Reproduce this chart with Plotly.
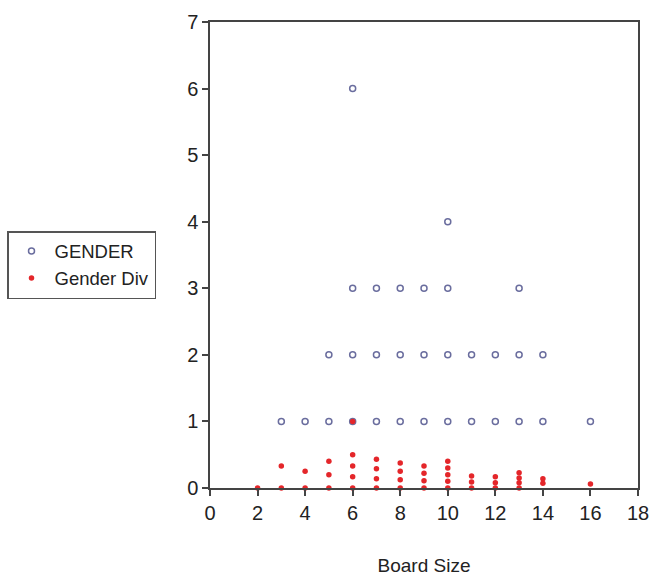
import plotly.graph_objects as go

# GENDER (number of women on board) vs board size
gender_x = [3, 4, 5, 5, 6, 6, 6, 6, 7, 7, 7, 8, 8, 8, 9, 9, 9,
            10, 10, 10, 10, 11, 11, 12, 12, 13, 13, 13, 14, 14, 16]
gender_y = [1, 1, 1, 2, 1, 2, 3, 6, 1, 2, 3, 1, 2, 3, 1, 2, 3,
            1, 2, 3, 4, 1, 2, 1, 2, 1, 2, 3, 1, 2, 1]

# Gender Div (share of women on board) vs board size
div_x = [2, 3, 3, 4, 4, 5, 5, 5, 6, 6, 6, 6, 6, 7, 7, 7, 7, 8, 8, 8, 8, 9, 9, 9, 9,
         10, 10, 10, 10, 10, 11, 11, 11, 12, 12, 12, 13, 13, 13, 13, 14, 14, 16]
div_y = [0, 0, 0.33, 0, 0.25, 0, 0.2, 0.4, 0, 0.17, 0.33, 0.5, 1.0, 0, 0.14, 0.29, 0.43,
         0, 0.125, 0.25, 0.375, 0, 0.11, 0.22, 0.33, 0, 0.1, 0.2, 0.3, 0.4,
         0, 0.09, 0.18, 0, 0.08, 0.17, 0, 0.08, 0.15, 0.23, 0.07, 0.14, 0.06]

x_ticks = [0, 2, 4, 6, 8, 10, 12, 14, 16, 18]
y_ticks = [0, 1, 2, 3, 4, 5, 6, 7]

FONT = "Liberation Sans, Arial, sans-serif"

fig = go.Figure()
fig.add_trace(go.Scatter(
    x=gender_x, y=gender_y, mode="markers", name="GENDER",
    marker=dict(symbol="circle-open", size=6, color="#6a6d9e", line=dict(width=1.5)),
    cliponaxis=False,
))
fig.add_trace(go.Scatter(
    x=div_x, y=div_y, mode="markers", name="Gender Div",
    marker=dict(symbol="circle", size=5.5, color="#e4262a"),
    cliponaxis=False,
))

axis_common = dict(
    showgrid=False, zeroline=False, showline=True, linecolor="#444444", linewidth=1.5,
    mirror=True, ticks="outside", ticklen=6, tickcolor="#444444", tickwidth=1.5,
    tickfont=dict(family=FONT, size=20, color="#222222"),
    automargin=False, ticklabeloverflow="allow",
)

fig.update_layout(
    width=649, height=582,
    margin=dict(l=210, r=11, t=22, b=94, autoexpand=False),
    plot_bgcolor="white", paper_bgcolor="white",
    font=dict(family=FONT, color="#222222"),
    xaxis=dict(range=[0, 18], tickvals=x_ticks, ticktext=[str(v) for v in x_ticks],
               title=dict(text="Board Size", font=dict(size=19), standoff=36), **axis_common),
    yaxis=dict(range=[0, 7], tickvals=y_ticks, ticktext=[str(v) for v in y_ticks],
               **axis_common),
    legend=dict(xref="container", yref="container", x=7 / 649, y=1 - 231 / 582,
                xanchor="left", yanchor="top",
                bordercolor="#555555", borderwidth=1.5, bgcolor="white",
                font=dict(size=18.5, color="#222222"), itemsizing="trace",
                tracegroupgap=0, itemwidth=36),
    showlegend=True,
)

fig.write_html("out.html", config={"displayModeBar": False},
               post_script="document.body.style.margin='0px';")
